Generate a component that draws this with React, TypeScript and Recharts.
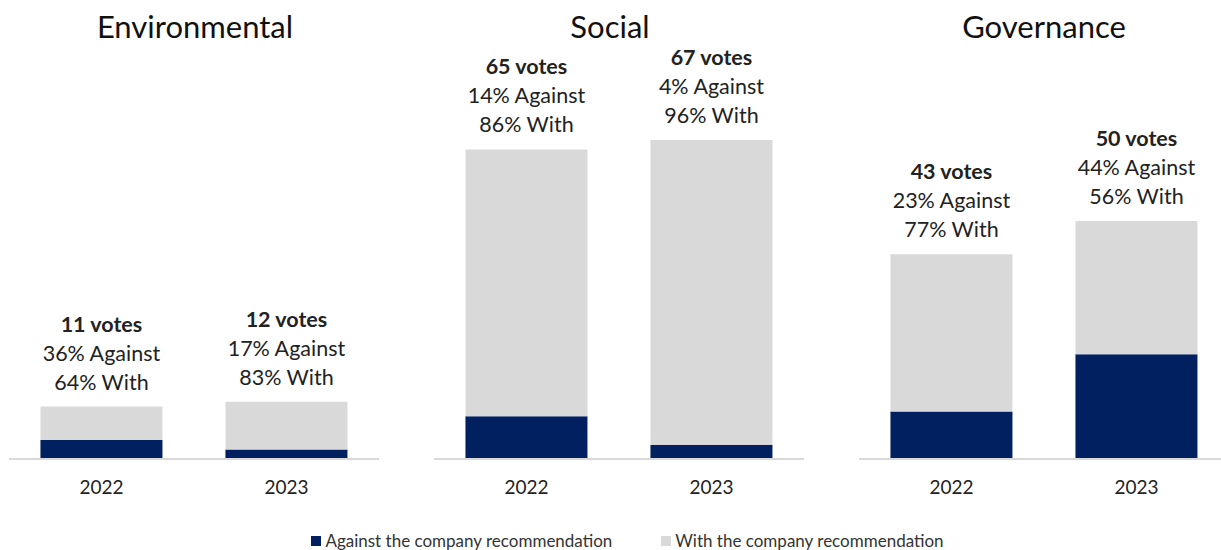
import React from "react";
import { BarChart, Bar, XAxis, YAxis, LabelList } from "recharts";

const panels = ["Environmental", "Social", "Governance"];
const years = ["2022", "2023"];
const totalVotes = [
  [11, 12],
  [65, 67],
  [43, 50],
];
const againstVotes = [
  [4, 2],
  [9, 3],
  [10, 22],
];
const againstPct = [
  [36, 17],
  [14, 4],
  [23, 44],
];

const NAVY = "#002060";
const GREY = "#d9d9d9";
const FONT = "Lato, 'Noto Sans', sans-serif";

const panelLeft = [9, 433.5, 858.5];
const titleCenter = [195, 610, 1044];

function VoteLabel(props: any) {
  const { x, y, width, index, panel } = props;
  const cx = x + width / 2;
  const votes = totalVotes[panel][index];
  const pct = againstPct[panel][index];
  return (
    <text x={cx} y={y - 17} textAnchor="middle" fontFamily={FONT} fontSize={21.5} fill="#222">
      <tspan x={cx} dy={-58} fontWeight="bold">{`${votes} votes`}</tspan>
      <tspan x={cx} dy={29}>{`${pct}% Against`}</tspan>
      <tspan x={cx} dy={29}>{`${100 - pct}% With`}</tspan>
    </text>
  );
}

function Panel({ panel }: { panel: number }) {
  const data = years.map((year, i) => ({
    year,
    against: againstVotes[panel][i],
    with: totalVotes[panel][i] - againstVotes[panel][i],
  }));
  return (
    <div style={{ position: "absolute", left: panelLeft[panel], top: 0 }}>
      <BarChart
        width={370}
        height={509}
        data={data}
        margin={{ top: 78, right: 0, bottom: 0, left: 0 }}
        barCategoryGap="17%"
      >
        <YAxis hide domain={[0, 80]} />
        <XAxis
          dataKey="year"
          height={50}
          tickLine={false}
          axisLine={{ stroke: GREY, strokeWidth: 2 }}
          tick={{ fontFamily: FONT, fontSize: 19, fill: "#222" }}
          tickMargin={16}
        />
        <Bar dataKey="against" stackId="a" fill={NAVY} isAnimationActive={false} />
        <Bar dataKey="with" stackId="a" fill={GREY} isAnimationActive={false}>
          <LabelList dataKey="with" content={(p: any) => <VoteLabel {...p} panel={panel} />} />
        </Bar>
      </BarChart>
    </div>
  );
}

export default function App() {
  return (
    <div
      style={{
        position: "absolute",
        left: 0,
        top: 0,
        width: 1221,
        height: 550,
        background: "#fff",
        fontFamily: FONT,
        overflow: "hidden",
      }}
    >
      {panels.map((name, i) => (
        <div
          key={name}
          style={{
            position: "absolute",
            left: titleCenter[i] - 150,
            width: 300,
            top: 7,
            textAlign: "center",
            fontSize: 31,
            color: "#111",
          }}
        >
          {name}
        </div>
      ))}
      {panels.map((name, i) => (
        <Panel key={name} panel={i} />
      ))}
      <div
        style={{
          position: "absolute",
          top: 530,
          left: 0,
          width: 1221,
          display: "flex",
          justifyContent: "center",
          fontSize: 17,
          color: "#333",
          gap: 49,
          paddingLeft: 34,
          boxSizing: "border-box",
        }}
      >
        <span style={{ display: "flex", alignItems: "center" }}>
          <span style={{ width: 10, height: 10, background: NAVY, marginRight: 4 }} />
          Against the company recommendation
        </span>
        <span style={{ display: "flex", alignItems: "center" }}>
          <span style={{ width: 10, height: 10, background: GREY, marginRight: 4 }} />
          With the company recommendation
        </span>
      </div>
    </div>
  );
}
